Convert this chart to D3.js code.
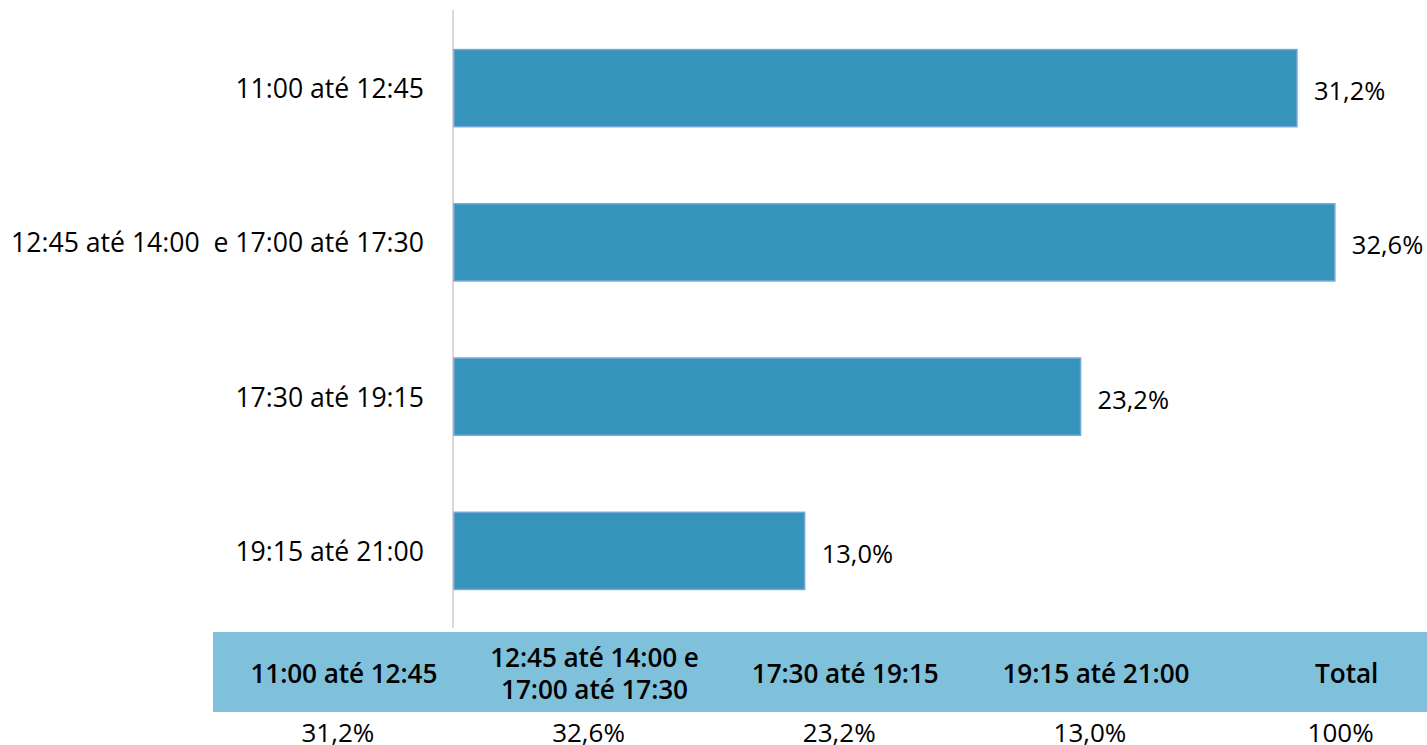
<!DOCTYPE html>
<html><head><meta charset="utf-8">
<script src="https://cdn.jsdelivr.net/npm/d3@7"></script>
<style>body{margin:0;background:#fff}svg{display:block}text{white-space:pre}</style>
</head><body>
<script>
const categories = ["11:00 até 12:45", "12:45 até 14:00  e 17:00 até 17:30", "17:30 até 19:15", "19:15 até 21:00"];
const values = [31.2, 32.6, 23.2, 13.0];
const valueLabels = ["31,2%", "32,6%", "23,2%", "13,0%"];
const tableHeaders = [["11:00 até 12:45"], ["12:45 até 14:00 e", "17:00 até 17:30"], ["17:30 até 19:15"], ["19:15 até 21:00"], ["Total"]];
const tableValues = ["31,2%", "32,6%", "23,2%", "13,0%", "100%"];

const W = 1427, H = 745;
const FONT = "'Open Sans', sans-serif";
const svg = d3.select("body").append("svg").attr("width", W).attr("height", H);

const x = d3.scaleLinear().domain([0, 35]).range([453, 453 + 35 * 27.05]);
const y = d3.scaleBand().domain(categories).range([11, 628]).paddingInner(0.5).paddingOuter(0.25);

function label(g, tx, ty, txt, anchor, size, weight, ls) {
  g.append("text").attr("x", tx).attr("y", ty).attr("text-anchor", anchor).attr("dominant-baseline", "central")
    .attr("font-family", FONT).attr("font-size", size).attr("font-weight", weight || 400)
    .attr("letter-spacing", ls || 0)
    .attr("fill", "#000").text(txt);
}

// axis line
svg.append("line").attr("x1", x(0)).attr("x2", x(0)).attr("y1", 10).attr("y2", 628)
  .attr("stroke", "#d9d9d9").attr("stroke-width", 2);

// bars
svg.selectAll("rect.bar").data(values).join("rect").attr("class", "bar")
  .attr("x", x(0) + 1).attr("y", (d, i) => y(categories[i]))
  .attr("width", d => x(d) - x(0) - 1).attr("height", y.bandwidth())
  .attr("fill", "#3693ba").attr("stroke", "#6fa8dc").attr("stroke-width", 1.5);

const lg = svg.append("g");
categories.forEach((c, i) => {
  label(lg, 424, y(c) + y.bandwidth() / 2, c, "end", 26.6);
  label(lg, x(values[i]) + 17, y(c) + y.bandwidth() / 2 + 2, valueLabels[i], "start", 25.5);
});

// table
const tx = d3.scaleBand().domain(d3.range(tableHeaders.length)).range([218.5, 1472]);
svg.append("rect").attr("x", 213).attr("y", 632).attr("width", W - 213).attr("height", 80).attr("fill", "#7fc0db");
const tg = svg.append("g");
tableHeaders.forEach((h, i) => {
  const cx = tx(i) + tx.bandwidth() / 2;
  h.forEach((line, j) => {
    const cy = 673 + (j - (h.length - 1) / 2) * 32;
    label(tg, cx, cy, line, "middle", 26.2, 600, -0.1);
  });
  label(tg, cx - 6, 732, tableValues[i], "middle", 26);
});
</script>
</body></html>
